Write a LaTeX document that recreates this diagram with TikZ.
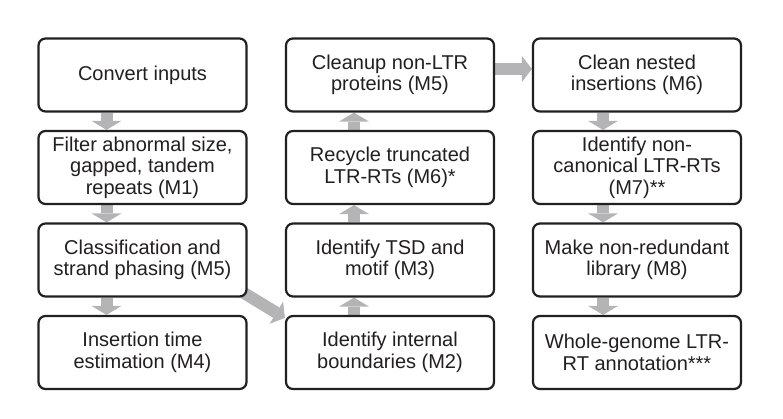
\documentclass[tikz,border=0pt]{standalone}
\usepackage{fontspec}
\setmainfont{Liberation Sans}
\usetikzlibrary{arrows.meta,calc}
\definecolor{boxline}{RGB}{35,31,32}
\definecolor{arrowgray}{RGB}{180,180,182}
\pgfdeclarelayer{background}
\pgfsetlayers{background,main}
\tikzset{
  stepbox/.style={draw=boxline, line width=2.2pt, rounded corners=7pt, fill=white,
    minimum width=208pt, minimum height=73pt, align=center, inner sep=0pt,
    font=\fontsize{20}{21.5}\selectfont, text=boxline},
  flowarrow/.style={draw=arrowgray, line width=12pt,
    -{Triangle[width=30pt,length=9pt,line width=0pt]}},
  sidearrow/.style={draw=arrowgray, line width=12pt,
    -{Triangle[width=26pt,length=10pt,line width=0pt]}}
}
\begin{document}
\begin{tikzpicture}[x=1pt,y=-1pt]
\useasboundingbox (0,0) rectangle (783,419);
% column 1
\node[stepbox] (a1) at (142.5,75) {Convert inputs};
\node[stepbox] (a2) at (142.5,167.5) {Filter abnormal size,\\gapped, tandem\\repeats (M1)};
\node[stepbox] (a3) at (142.5,260) {Classification and\\strand phasing (M5)};
\node[stepbox] (a4) at (142.5,352.5) {Insertion time\\estimation (M4)};
% column 2
\node[stepbox] (b1) at (390,75) {Cleanup non-LTR\\proteins (M5)};
\node[stepbox] (b2) at (390,167.5) {Recycle truncated\\LTR-RTs (M6)*};
\node[stepbox] (b3) at (390,260) {Identify TSD and\\motif (M3)};
\node[stepbox] (b4) at (390,352.5) {Identify internal\\boundaries (M2)};
% column 3
\node[stepbox] (c1) at (637,75) {Clean nested\\insertions (M6)};
\node[stepbox] (c2) at (637,167.5) {Identify non-\\canonical LTR-RTs\\(M7)**};
\node[stepbox] (c3) at (637,260) {Make non-redundant\\library (M8)};
\node[stepbox] (c4) at (637,352.5) {Whole-genome LTR-\\RT annotation***};
\begin{pgfonlayer}{background}
% column 1 down
\draw[flowarrow] ($(a1.south)+(-36,0)$) -- ($(a2.north)+(-36,0)$);
\draw[flowarrow] ($(a2.south)+(-36,0)$) -- ($(a3.north)+(-36,0)$);
\draw[flowarrow] ($(a3.south)+(-36,0)$) -- ($(a4.north)+(-36,0)$);
% diagonal
\draw[sidearrow] ($(a3.south east)+(-6,-6)$) -- ($(b4.north west)+(0,3)$);
% column 2 up
\draw[flowarrow] ($(b4.north)+(-36,0)$) -- ($(b3.south)+(-36,0)$);
\draw[flowarrow] ($(b3.north)+(-36,0)$) -- ($(b2.south)+(-36,0)$);
\draw[flowarrow] ($(b2.north)+(-36,0)$) -- ($(b1.south)+(-36,0)$);
% across
\draw[sidearrow] ($(b1.east)+(0,-6)$) -- ($(c1.west)+(0,-6)$);
% column 3 down
\draw[flowarrow] ($(c1.south)+(-34,0)$) -- ($(c2.north)+(-34,0)$);
\draw[flowarrow] ($(c2.south)+(-34,0)$) -- ($(c3.north)+(-34,0)$);
\draw[flowarrow] ($(c3.south)+(-34,0)$) -- ($(c4.north)+(-34,0)$);
\end{pgfonlayer}
\end{tikzpicture}
\end{document}
